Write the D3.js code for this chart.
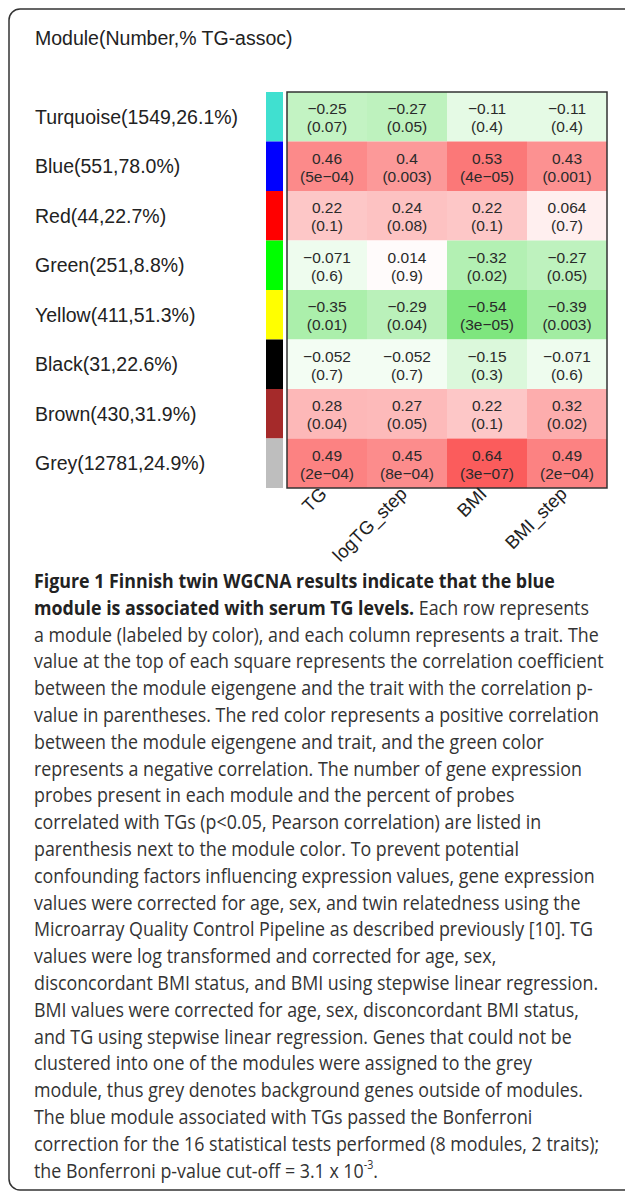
<!DOCTYPE html>
<html>
<head>
<meta charset="utf-8">
<script src="https://cdn.jsdelivr.net/npm/d3@7"></script>
<style>
  body { margin: 0; background: #fff; }
  svg { display: block; }
</style>
</head>
<body>
<div id="chart"></div>
<script>
// module rows
const modules = ['Turquoise', 'Blue', 'Red', 'Green', 'Yellow', 'Black', 'Brown', 'Grey'];
const moduleSizes = [1549, 551, 44, 251, 411, 31, 430, 12781];
const pctTG = ['26.1', '78.0', '22.7', '8.8', '51.3', '22.6', '31.9', '24.9'];
const moduleColors = ['#40e0d0', '#0000ff', '#ff0000', '#00ff00', '#ffff00', '#000000', '#a52a2a', '#bebebe'];

// trait columns
const traits = ['TG', 'logTG_step', 'BMI', 'BMI_step'];

// correlation per module (rows) x trait (cols)
const corr = [
    [-0.25, -0.27, -0.11, -0.11],
    [0.46, 0.4, 0.53, 0.43],
    [0.22, 0.24, 0.22, 0.064],
    [-0.071, 0.014, -0.32, -0.27],
    [-0.35, -0.29, -0.54, -0.39],
    [-0.052, -0.052, -0.15, -0.071],
    [0.28, 0.27, 0.22, 0.32],
    [0.49, 0.45, 0.64, 0.49]
];
const pvals = [
    ['0.07', '0.05', '0.4', '0.4'],
    ['5e-04', '0.003', '4e-05', '0.001'],
    ['0.1', '0.08', '0.1', '0.7'],
    ['0.6', '0.9', '0.02', '0.05'],
    ['0.01', '0.04', '3e-05', '0.003'],
    ['0.7', '0.7', '0.3', '0.6'],
    ['0.04', '0.05', '0.1', '0.02'],
    ['2e-04', '8e-04', '3e-07', '2e-04']
];

const captionLines = [
    [['b', 'Figure 1 Finnish twin WGCNA results indicate that the blue']],
    [['b', 'module is associated with serum TG levels.'], ['n', ' Each row represents']],
    [['n', 'a module (labeled by color), and each column represents a trait. The']],
    [['n', 'value at the top of each square represents the correlation coefficient']],
    [['n', 'between the module eigengene and the trait with the correlation p-']],
    [['n', 'value in parentheses. The red color represents a positive correlation']],
    [['n', 'between the module eigengene and trait, and the green color']],
    [['n', 'represents a negative correlation. The number of gene expression']],
    [['n', 'probes present in each module and the percent of probes']],
    [['n', 'correlated with TGs (p<0.05, Pearson correlation) are listed in']],
    [['n', 'parenthesis next to the module color. To prevent potential']],
    [['n', 'confounding factors influencing expression values, gene expression']],
    [['n', 'values were corrected for age, sex, and twin relatedness using the']],
    [['n', 'Microarray Quality Control Pipeline as described previously [10]. TG']],
    [['n', 'values were log transformed and corrected for age, sex,']],
    [['n', 'disconcordant BMI status, and BMI using stepwise linear regression.']],
    [['n', 'BMI values were corrected for age, sex, disconcordant BMI status,']],
    [['n', 'and TG using stepwise linear regression. Genes that could not be']],
    [['n', 'clustered into one of the modules were assigned to the grey']],
    [['n', 'module, thus grey denotes background genes outside of modules.']],
    [['n', 'The blue module associated with TGs passed the Bonferroni']],
    [['n', 'correction for the 16 statistical tests performed (8 modules, 2 traits);']],
    [['n', 'the Bonferroni p-value cut-off = 3.1 x 10'], ['sup', '-3'], ['n', '.']]
];

const w = 625;
const h = 1193;
const minus = s => String(s).replace('-', '\u2212');

const svg = d3.select('#chart')
    .append('svg')
    .attr('width', w)
    .attr('height', h);

// outer frame (runs off the right edge)
svg.append('rect')
    .attr('x', 9)
    .attr('y', 9)
    .attr('width', 700)
    .attr('height', 1181)
    .attr('rx', 11)
    .attr('fill', 'none')
    .attr('stroke', '#333')
    .attr('stroke-width', 1.5);

svg.append('text')
    .attr('x', 35)
    .attr('y', 45)
    .attr('font-family', 'Liberation Sans, Arial, sans-serif')
    .attr('font-size', 19.5)
    .attr('fill', '#222')
    .text('Module(Number,% TG-assoc)');

const x = d3.scaleBand().domain(traits).range([287, 607]);
const y = d3.scaleBand().domain(modules).range([92, 488]);
const color = d3.scaleLinear()
    .domain([-1, 0, 1])
    .range(['#10d010', '#ffffff', '#f80000']);

const cells = [];
modules.forEach((m, i) => {
    traits.forEach((t, j) => {
        cells.push({ m: m, t: t, r: corr[i][j], p: pvals[i][j] });
    });
});

// module colour bar
svg.selectAll('.mod')
    .data(modules)
    .enter()
    .append('rect')
    .attr('class', 'mod')
    .attr('x', 266)
    .attr('y', d => y(d))
    .attr('width', 17)
    .attr('height', y.bandwidth())
    .attr('fill', (d, i) => moduleColors[i]);

// row labels
svg.selectAll('.rowlab')
    .data(modules)
    .enter()
    .append('text')
    .attr('class', 'rowlab')
    .attr('x', 35)
    .attr('y', d => y(d) + y.bandwidth() / 2 + 7)
    .attr('font-family', 'Liberation Sans, Arial, sans-serif')
    .attr('font-size', 19.5)
    .attr('fill', '#222')
    .text((d, i) => d + '(' + moduleSizes[i] + ',' + pctTG[i] + '%)');

// heatmap cells
svg.selectAll('.cell')
    .data(cells)
    .enter()
    .append('rect')
    .attr('class', 'cell')
    .attr('x', d => x(d.t))
    .attr('y', d => y(d.m))
    .attr('width', x.bandwidth())
    .attr('height', y.bandwidth())
    .attr('fill', d => color(d.r));

const cellText = svg.selectAll('.celltext')
    .data(cells)
    .enter()
    .append('text')
    .attr('class', 'celltext')
    .attr('text-anchor', 'middle')
    .attr('font-family', 'Liberation Sans, Arial, sans-serif')
    .attr('font-size', 15.5)
    .attr('fill', '#2a2a2a');
cellText.append('tspan')
    .attr('x', d => x(d.t) + x.bandwidth() / 2)
    .attr('y', d => y(d.m) + 22)
    .text(d => minus(d.r));
cellText.append('tspan')
    .attr('x', d => x(d.t) + x.bandwidth() / 2)
    .attr('y', d => y(d.m) + 40)
    .text(d => '(' + minus(d.p) + ')');

svg.append('rect')
    .attr('x', 287)
    .attr('y', 92)
    .attr('width', 320)
    .attr('height', 396)
    .attr('fill', 'none')
    .attr('stroke', '#333')
    .attr('stroke-width', 1.5);

// trait labels, rotated
svg.selectAll('.collab')
    .data(traits)
    .enter()
    .append('text')
    .attr('class', 'collab')
    .attr('text-anchor', 'end')
    .attr('font-family', 'Liberation Sans, Arial, sans-serif')
    .attr('font-size', 18.5)
    .attr('fill', '#222')
    .attr('transform', d => 'translate(' + (x(d) + x.bandwidth() / 2 + 1) + ',' + 495 + ') rotate(-45)')
    .text(d => d);

// caption
const cap = svg.append('g');
const capLines = cap.selectAll('.capline')
    .data(captionLines)
    .enter()
    .append('text')
    .attr('class', 'capline')
    .attr('font-family', 'Open Sans, sans-serif')
    .attr('font-size', 20)
    .attr('fill', '#333');
capLines.selectAll('tspan')
    .data(d => d)
    .enter()
    .append('tspan')
    .attr('font-weight', d => d[0] === 'b' ? 700 : 400)
    .attr('fill', d => d[0] === 'b' ? '#222' : '#333')
    .attr('font-size', d => d[0] === 'sup' ? 12 : null)
    .attr('dy', (d, i, n) => {
        if (d[0] === 'sup') return -9;
        if (i > 0 && n[i - 1].__data__[0] === 'sup') return 9;
        return null;
    })
    .text(d => d[1]);

const refWidth = capLines.filter((d, i) => i === 3).node().getComputedTextLength();
const sx = 570 / refWidth;
capLines.attr('transform', (d, i) => 'translate(34,' + (588 + i * 26.8) + ') scale(' + sx + ',1)');
</script>
</body>
</html>
